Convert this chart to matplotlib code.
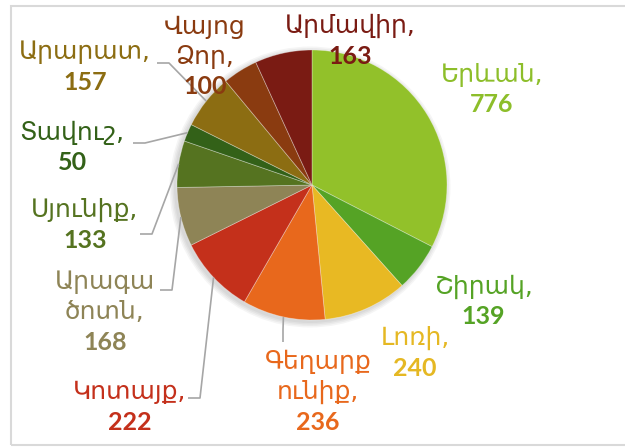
import numpy as np
import matplotlib
matplotlib.use("Agg")
import matplotlib.pyplot as plt
from matplotlib.patches import Rectangle, Circle

# ---- data ----
regions = ["Երևան", "Շիրակ", "Լոռի", "Գեղարքունիք", "Կոտայք", "Արագածոտն",
           "Սյունիք", "Տավուշ", "Արարատ", "Վայոց Ձոր", "Արմավիր"]
values = [776, 139, 240, 236, 222, 168, 133, 50, 157, 100, 163]
label_lines = [["Երևան,"], ["Շիրակ,"], ["Լոռի,"], ["Գեղարք", "ունիք,"], ["Կոտայք,"],
               ["Արագա", "ծոտն,"], ["Սյունիք,"], ["Տավուշ,"], ["Արարատ,"],
               ["Վայոց", "Ձոր,"], ["Արմավիր,"]]

colors = ["#92C12A", "#55A325", "#E8B923", "#E8681C", "#C4301B", "#8E8456",
          "#557320", "#336118", "#8C6D12", "#8A3B10", "#7A1B13"]
text_colors = ["#8DBE2A", "#55A325", "#E5B823", "#E8681C", "#C4301B", "#8E8456",
               "#557320", "#336118", "#8C6D12", "#8A3B10", "#7A1B13"]

W, H = 625, 447
fig = plt.figure(figsize=(W / 100, H / 100), dpi=100)
ax = fig.add_axes([0, 0, 1, 1])

def Y(yp):
    return H - yp

# border
fig.patches.append(Rectangle((11 / W, (H - 445) / H), 1.2, (445 - 6) / H,
                             transform=fig.transFigure, fill=False,
                             edgecolor="#D9D9D9", linewidth=1.5))

cx, cy, R = 312, Y(185), 135

# soft shadow
for i in range(4):
    ax.add_patch(Circle((cx - 2, cy - 2), R + 1 + i * 1.5, color="black",
                        alpha=0.04, lw=0, zorder=1))

wedges, _ = ax.pie(values, colors=colors, startangle=90, counterclock=False,
                   center=(cx, cy), radius=R, frame=True,
                   wedgeprops=dict(edgecolor=(1, 1, 1, 0.35), linewidth=0.6))
for w in wedges:
    w.set_zorder(2)
ax.set_xlim(0, W)
ax.set_ylim(0, H)
ax.set_aspect("equal")
ax.axis("off")

# label layout: center x, first-line y (pixels)
label_pos = [(492, 75), (483, 287), (415, 338), (318, 362), (130, 392),
             (105, 282), (85, 210), (72, 133), (85, 52), (205, 27), (350, 26)]
line_h = 30
# leader start points (pixels) and elbow direction, None -> no leader
leaders = [None, None, None, ("v", 283, 342), ("h", 188, 398), ("h", 160, 290),
           ("h", 140, 234), ("h", 133, 143), ("h", 157, 63), None, None]

fs_name = 18
fs_num = 18
for i, (lines, val) in enumerate(zip(label_lines, values)):
    x, y = label_pos[i]
    for j, ln in enumerate(lines):
        ax.text(x, Y(y + j * line_h), ln, ha="center", va="center",
                fontsize=fs_name, color=text_colors[i], family=["DejaVu Sans"],
                zorder=5)
    ax.text(x, Y(y + len(lines) * line_h), str(val), ha="center", va="center",
            fontsize=fs_num, fontweight="bold", color=text_colors[i],
            family=["Lato", "DejaVu Sans"], zorder=5)

    ld = leaders[i]
    if ld is not None:
        w = wedges[i]
        mid = np.deg2rad((w.theta1 + w.theta2) / 2)
        ex, ey = cx + R * np.cos(mid), cy + R * np.sin(mid)
        kind, sx, sy = ld
        sy = Y(sy)
        if kind == "h":
            xs = [sx, sx + 12, ex]
            ys = [sy, sy, ey]
        else:
            xs = [sx, sx, ex]
            ys = [sy, sy + 12, ey]
        ax.plot(xs, ys, color="#A6A6A6", lw=1.2, zorder=3,
                solid_capstyle="butt")

fig.savefig("out.png", dpi=100)
